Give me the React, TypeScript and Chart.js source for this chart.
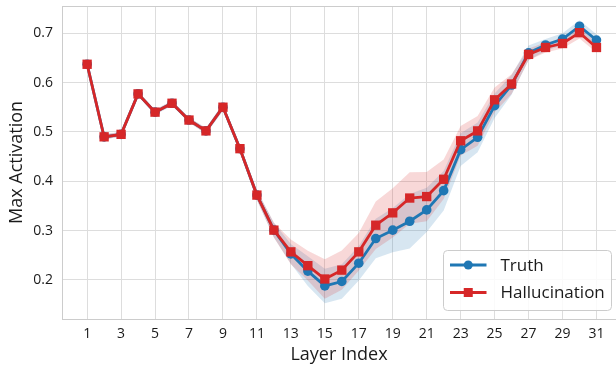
import React, { useEffect, useRef } from "react";
import Chart from "chart.js/auto";

const layers = [1, 2, 3, 4, 5, 6, 7, 8, 9, 10, 11, 12, 13, 14, 15, 16, 17, 18, 19, 20, 21, 22, 23, 24, 25, 26, 27, 28, 29, 30, 31];
const truthValues = [0.637, 0.49, 0.495, 0.577, 0.54, 0.558, 0.524, 0.502, 0.55, 0.466, 0.372, 0.301, 0.253, 0.218, 0.188, 0.197, 0.234, 0.284, 0.301, 0.319, 0.342, 0.381, 0.464, 0.489, 0.553, 0.595, 0.66, 0.676, 0.688, 0.714, 0.686];
const hallValues = [0.637, 0.49, 0.495, 0.577, 0.54, 0.558, 0.524, 0.502, 0.55, 0.466, 0.372, 0.301, 0.257, 0.229, 0.202, 0.22, 0.257, 0.311, 0.336, 0.366, 0.369, 0.404, 0.482, 0.502, 0.565, 0.597, 0.657, 0.671, 0.679, 0.701, 0.671];
const truthStd = [0.005, 0.005, 0.005, 0.005, 0.005, 0.005, 0.005, 0.006, 0.007, 0.008, 0.01, 0.015, 0.02, 0.03, 0.035, 0.035, 0.035, 0.04, 0.045, 0.055, 0.045, 0.04, 0.033, 0.03, 0.025, 0.02, 0.015, 0.012, 0.012, 0.012, 0.012];
const hallStd = [0.005, 0.005, 0.005, 0.005, 0.005, 0.005, 0.005, 0.006, 0.007, 0.008, 0.01, 0.015, 0.025, 0.03, 0.04, 0.04, 0.038, 0.048, 0.05, 0.052, 0.05, 0.04, 0.03, 0.03, 0.025, 0.02, 0.012, 0.01, 0.01, 0.012, 0.01];
const xTicks = [1, 3, 5, 7, 9, 11, 13, 15, 17, 19, 21, 23, 25, 27, 29, 31];
const yTicks = [0.2, 0.3, 0.4, 0.5, 0.6, 0.7];

const BLUE = "#1f77b4";
const RED = "#d62728";
const FONT = "'Open Sans', 'DejaVu Sans', sans-serif";
const TEXT = "#1a1a1a";
const GRID = "#dddddd";

const pts = (vals: number[]) => layers.map((x, i) => ({ x, y: vals[i] }));
const band = (vals: number[], sd: number[], sign: number) => layers.map((x, i) => ({ x, y: vals[i] + sign * sd[i] }));

const framePlugin = {
  id: "frame",
  afterDraw(chart: any) {
    const { ctx, chartArea } = chart;
    ctx.save();
    ctx.strokeStyle = "#cccccc";
    ctx.lineWidth = 1;
    ctx.strokeRect(chartArea.left + 0.5, chartArea.top + 0.5, chartArea.right - chartArea.left + 2, chartArea.bottom - chartArea.top);
    ctx.restore();
  },
};

const legendPlugin = {
  id: "customLegend",
  afterDraw(chart: any) {
    const { ctx, chartArea } = chart;
    const w = 168;
    const h = 60;
    const right = chartArea.right - 4.5;
    const bottom = chartArea.bottom - 8.5;
    const left = right - w;
    const top = bottom - h;
    ctx.save();
    ctx.beginPath();
    ctx.roundRect(left, top, w, h, 4);
    ctx.fillStyle = "rgba(255,255,255,0.85)";
    ctx.fill();
    ctx.strokeStyle = "#cccccc";
    ctx.lineWidth = 1;
    ctx.stroke();
    const entries = [chart.data.datasets[1], chart.data.datasets[0]];
    entries.forEach((ds: any, i: number) => {
      const y = top + 14.5 + i * 27.5;
      const x0 = left + 6.5;
      const x1 = left + 43;
      ctx.strokeStyle = ds.borderColor;
      ctx.lineWidth = 2.8;
      ctx.beginPath();
      ctx.moveTo(x0, y);
      ctx.lineTo(x1, y);
      ctx.stroke();
      ctx.fillStyle = ds.borderColor;
      const cx = (x0 + x1) / 2;
      if (ds.pointStyle === "rect") {
        ctx.fillRect(cx - 4.5, y - 4.5, 9, 9);
      } else {
        ctx.beginPath();
        ctx.arc(cx, y, 4.5, 0, Math.PI * 2);
        ctx.fill();
      }
      ctx.fillStyle = TEXT;
      ctx.font = `17px ${FONT}`;
      ctx.textBaseline = "middle";
      ctx.textAlign = "left";
      ctx.fillText(ds.label, left + 57, y + 1);
    });
    ctx.restore();
  },
};

export default function App() {
  const ref = useRef<HTMLCanvasElement>(null);
  useEffect(() => {
    if (!ref.current) return;
    const chart = new Chart(ref.current, {
      type: "line",
      data: {
        datasets: [
          {
            label: "Hallucination",
            data: pts(hallValues),
            borderColor: RED,
            backgroundColor: RED,
            borderWidth: 2.8,
            pointStyle: "rect",
            pointRadius: 6.6,
            pointBorderWidth: 0,
            fill: false,
          },
          {
            label: "Truth",
            data: pts(truthValues),
            borderColor: BLUE,
            backgroundColor: BLUE,
            borderWidth: 2.8,
            pointStyle: "circle",
            pointRadius: 4.8,
            pointBorderWidth: 0,
            fill: false,
          },
          {
            label: "hallUpper",
            data: band(hallValues, hallStd, 1),
            borderWidth: 0,
            pointRadius: 0,
            fill: false,
          },
          {
            label: "hallLower",
            data: band(hallValues, hallStd, -1),
            borderWidth: 0,
            pointRadius: 0,
            backgroundColor: "rgba(214,39,40,0.18)",
            fill: "-1",
          },
          {
            label: "truthUpper",
            data: band(truthValues, truthStd, 1),
            borderWidth: 0,
            pointRadius: 0,
            fill: false,
          },
          {
            label: "truthLower",
            data: band(truthValues, truthStd, -1),
            borderWidth: 0,
            pointRadius: 0,
            backgroundColor: "rgba(31,119,180,0.18)",
            fill: "-1",
          },
        ],
      },
      options: {
        animation: false,
        responsive: false,
        devicePixelRatio: 1,
        layout: { autoPadding: false, padding: { top: 6, right: 0, left: 0, bottom: 0 } },
        plugins: {
          legend: { display: false },
          tooltip: { enabled: false },
        },
        scales: {
          x: {
            type: "linear",
            min: -0.48,
            max: 32.15,
            afterBuildTicks: (s: any) => {
              s.ticks = xTicks.map((v) => ({ value: v }));
            },
            afterFit: (s: any) => {
              s.height = 47;
              s.paddingLeft = 0;
              s.paddingRight = 0;
            },
            grid: { color: GRID, lineWidth: 1, drawTicks: false },
            border: { display: false },
            ticks: {
              color: TEXT,
              font: { family: FONT, size: 14 },
              padding: 7,
              maxRotation: 0,
              autoSkip: false,
            },
            title: {
              display: true,
              text: "Layer Index",
              color: TEXT,
              font: { family: FONT, size: 18 },
              padding: { top: 0, bottom: 0 },
            },
          },
          y: {
            type: "linear",
            min: 0.121,
            max: 0.755,
            afterBuildTicks: (s: any) => {
              s.ticks = yTicks.map((v) => ({ value: v }));
            },
            afterFit: (s: any) => {
              s.width = 62;
              s.paddingTop = 0;
              s.paddingBottom = 0;
            },
            grid: { color: GRID, lineWidth: 1, drawTicks: false },
            border: { display: false },
            ticks: {
              color: TEXT,
              font: { family: FONT, size: 14 },
              padding: 9,
              callback: (v: any) => Number(v).toFixed(1),
            },
            title: {
              display: true,
              text: "Max Activation",
              color: TEXT,
              font: { family: FONT, size: 18 },
              padding: { top: 6, bottom: 0 },
            },
          },
        },
      },
      plugins: [framePlugin, legendPlugin],
    } as any);
    return () => chart.destroy();
  }, []);
  return (
    <div style={{ position: "absolute", left: 0, top: 0, width: 616, height: 366, background: "#fff" }}>
      <canvas ref={ref} width={616} height={366} style={{ display: "block" }} />
    </div>
  );
}
